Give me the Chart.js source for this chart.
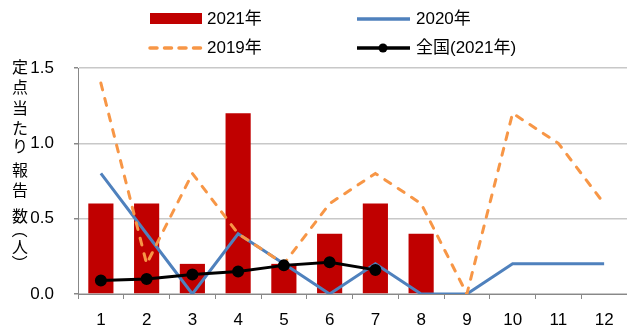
<!DOCTYPE html>
<html>
<head>
<meta charset="utf-8">
<script src="https://cdn.jsdelivr.net/npm/chart.js@4"></script>
<style>
  html, body { margin: 0; padding: 0; background: #fff; }
  #wrap { width: 627px; height: 332px; }
</style>
</head>
<body>
<div id="wrap"><canvas id="chart"></canvas></div>
<script>
const months = ["1", "2", "3", "4", "5", "6", "7", "8", "9", "10", "11", "12"];
const y2021 = [0.6, 0.6, 0.2, 1.2, 0.2, 0.4, 0.6, 0.4, null, null, null, null];
const y2020 = [0.8, 0.4, 0, 0.4, 0.2, 0, 0.2, 0, 0, 0.2, 0.2, 0.2];
const y2019 = [1.4, 0.2, 0.8, 0.4, 0.2, 0.6, 0.8, 0.6, 0, 1.2, 1.0, 0.6];
const national2021 = [0.09, 0.10, 0.13, 0.15, 0.19, 0.21, 0.16, null, null, null, null, null];
const yTicks = [0, 0.5, 1.0, 1.5];
const yTitle = ["定", "点", "当", "た", "り", "報", "告", "数", "（", "人", "）"];

const latin = "'Liberation Sans', 'Noto Sans CJK JP', sans-serif";
const cjk = "'Noto Sans CJK JP', sans-serif";

// legend (2 x 2) and the vertical axis title, drawn on the canvas
const extras = {
  id: "extras",
  afterDraw(chart) {
    const ctx = chart.ctx;
    const ds = chart.data.datasets;
    ctx.save();
    ctx.textBaseline = "middle";
    ctx.font = "17px " + latin;

    ctx.fillStyle = ds[0].backgroundColor;
    ctx.fillRect(150, 13, 52, 11);
    ctx.fillStyle = "#000";
    ctx.fillText(ds[0].label, 207, 19);

    ctx.lineWidth = 3.5;
    ctx.strokeStyle = ds[1].borderColor;
    ctx.beginPath(); ctx.moveTo(357, 19); ctx.lineTo(410, 19); ctx.stroke();
    ctx.fillText(ds[1].label, 416, 19);

    ctx.strokeStyle = ds[2].borderColor;
    ctx.setLineDash([7, 7.5]);
    ctx.lineCap = "round";
    ctx.beginPath(); ctx.moveTo(150, 48); ctx.lineTo(201, 48); ctx.stroke();
    ctx.setLineDash([]);
    ctx.lineCap = "butt";
    ctx.fillText(ds[2].label, 207, 48);

    ctx.strokeStyle = ds[3].borderColor;
    ctx.beginPath(); ctx.moveTo(357, 48); ctx.lineTo(410, 48); ctx.stroke();
    ctx.beginPath(); ctx.arc(383, 48, 4.5, 0, Math.PI * 2); ctx.fill();
    ctx.fillText(ds[3].label, 416, 48);

    // vertical title, one glyph per row; brackets turned a quarter
    const rows = [67, 87, 108, 128, 146, 170, 190, 216, 230, 247, 263];
    ctx.font = "16px " + cjk;
    ctx.textAlign = "center";
    yTitle.forEach((ch, i) => {
      if (ch === "（" || ch === "）") {
        ctx.save();
        ctx.translate(20, rows[i]);
        ctx.rotate(Math.PI / 2);
        ctx.fillText(ch, 0, 0);
        ctx.restore();
      } else {
        ctx.fillText(ch, 20, rows[i]);
      }
    });
    ctx.restore();
  }
};

new Chart(document.getElementById("chart"), {
  data: {
    labels: months,
    datasets: [
      {
        type: "bar",
        label: "2021年",
        data: y2021,
        backgroundColor: "#C00000",
        barPercentage: 1,
        categoryPercentage: 0.55,
        order: 4
      },
      {
        type: "line",
        label: "2020年",
        data: y2020,
        borderColor: "#4F81BD",
        borderWidth: 3,
        pointRadius: 0,
        tension: 0,
        order: 3
      },
      {
        type: "line",
        label: "2019年",
        data: y2019,
        borderColor: "#F79646",
        borderWidth: 3,
        borderDash: [7, 9],
        borderCapStyle: "round",
        pointRadius: 0,
        tension: 0,
        order: 2
      },
      {
        type: "line",
        label: "全国(2021年)",
        data: national2021,
        borderColor: "#000000",
        backgroundColor: "#000000",
        borderWidth: 3,
        pointRadius: 4.5,
        pointBackgroundColor: "#000000",
        tension: 0,
        order: 1
      }
    ]
  },
  options: {
    responsive: true,
    maintainAspectRatio: false,
    animation: false,
    layout: { autoPadding: false, padding: { top: 68, right: 0, left: 0, bottom: 0 } },
    plugins: {
      legend: { display: false },
      tooltip: { enabled: false }
    },
    scales: {
      x: {
        grid: { offset: true, drawOnChartArea: false, tickLength: 5, color: "#888", lineWidth: 1 },
        border: { color: "#888" },
        ticks: { color: "#000", font: { family: latin, size: 17 }, padding: 11, maxRotation: 0 },
        afterFit(scale) {
          scale.height = 38;
          scale.paddingLeft = 0;
          scale.paddingRight = 0;
        }
      },
      y: {
        min: 0,
        max: 1.5,
        afterBuildTicks(scale) { scale.ticks = yTicks.map(v => ({ value: v })); },
        grid: { color: "#c8c8c8", tickColor: "#888", tickLength: 4, lineWidth: 1.5 },
        border: { color: "#888" },
        ticks: {
          color: "#000",
          font: { family: latin, size: 17 },
          padding: 20,
          callback: v => Number(v).toFixed(1)
        },
        afterFit(scale) { scale.width = 78; }
      }
    }
  },
  plugins: [extras]
});
</script>
</body>
</html>
